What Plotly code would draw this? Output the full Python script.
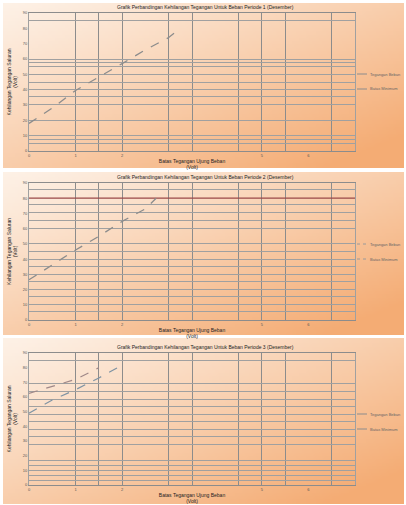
import base64, struct, zlib
import plotly.graph_objects as go

W, H = 406, 505

# ---------------- data ----------------
titles = [
    "Grafik Perbandingan Kehilangan Tegangan Untuk Beban Periode 1 (Desember)",
    "Grafik Perbandingan Kehilangan Tegangan Untuk Beban Periode 2 (Desember)",
    "Grafik Perbandingan Kehilangan Tegangan Untuk Beban Periode 3 (Desember)",
]
x_title = "Batas Tegangan Ujung Beban<br>(Volt)"
y_title = "Kehilangan Tegangan Saluran<br>(Volt)"

p1_x = [0, 0.5, 1, 1.5, 2, 2.5, 3, 3.23]
p1_y = [18, 28, 39.5, 48, 57, 66, 74, 79.5]

p2_x = [0, 0.5, 1, 1.5, 2, 2.5, 2.73]
p2_y = [26.4, 36, 46, 55, 64.8, 73, 80]
p2_limit_x = [0, 7]
p2_limit_y = [80, 80]

p3a_x = [0, 0.5, 1, 1.5]
p3a_y = [62.5, 67, 72, 80]
p3b_x = [0, 0.5, 1, 1.5, 1.9]
p3b_y = [49, 58, 65, 73, 80]

legend_names = [
    ["Tegangan Beban", "Batas Minimum"],
    ["Tegangan Beban", "Batas Minimum"],
    ["Tegangan Beban", "Batas Minimum"],
]

x_ticks = [0, 1, 2, 5, 6]
y_ticks = [0, 10, 20, 30, 40, 50, 60, 70, 80, 90]

x_grid = [0, 1, 1.5, 2, 3, 3.5, 4.5, 5, 5.5, 6.5, 7]
y_grid = [
    [0, 4.8, 7.4, 10.3, 20, 30.3, 35.4, 40.2, 44.5, 50.2, 55, 57.6, 59.8, 85.2, 90],
    [0, 5.5, 9.9, 15.4, 20.2, 25.3, 30.1, 35.2, 40, 45.1, 50.1, 60.4, 65.3, 70.3, 75.8, 85.7, 90],
    [0, 2.9, 6.8, 10.2, 13.6, 17, 27.7, 32.9, 37.9, 43.1, 48.1, 53.3, 58.5, 63.5, 69.2, 85, 90],
]

# ---------------- gradient background image ----------------
def gradient_png(w, h, c0, c1):
    rows = []
    for j in range(h):
        row = bytearray([0])
        v = j / (h - 1)
        for i in range(w):
            u = i / (w - 1)
            t = min(1.0, 0.55 * u + 0.55 * v)
            t = t ** 1.1
            for k in range(3):
                row.append(int(round(c0[k] + (c1[k] - c0[k]) * t)))
        rows.append(bytes(row))
    raw = b"".join(rows)

    def chunk(tag, data):
        c = struct.pack(">I", len(data)) + tag + data
        return c + struct.pack(">I", zlib.crc32(tag + data) & 0xFFFFFFFF)

    png = b"\x89PNG\r\n\x1a\n"
    png += chunk(b"IHDR", struct.pack(">IIBBBBB", w, h, 8, 2, 0, 0, 0))
    png += chunk(b"IDAT", zlib.compress(raw, 9))
    png += chunk(b"IEND", b"")
    return "data:image/png;base64," + base64.b64encode(png).decode()

grad = gradient_png(120, 50, (253, 241, 230), (244, 172, 116))

def px(x):
    return x / W

def py(y):
    return 1 - y / H

panels = [  # outer box top,bottom ; plot top,bottom ; legend rows
    dict(box=(3, 168), plot=(13, 151), leg=(74, 89)),
    dict(box=(172, 335), plot=(183, 320), leg=(244, 259)),
    dict(box=(338, 504), plot=(353, 485), leg=(414, 429)),
]
plot_x0, plot_x1 = 29, 355

series_styles = [
    [dict(color="#8c8c8c", width=1, dash="solid"), dict(color="#8c8c8c", width=1, dash="solid")],
    [dict(color="#9a9a9a", width=1, dash="dot"), dict(color="#9a9a9a", width=1, dash="dot")],
    [dict(color="#8c8c8c", width=1, dash="solid"), dict(color="#8c8c8c", width=1, dash="solid")],
]

fig = go.Figure()
layout = dict(
    width=W, height=H, margin=dict(l=0, r=0, t=0, b=0, autoexpand=False),
    paper_bgcolor="white", plot_bgcolor="white",
    font=dict(family="Liberation Sans, Arial", size=5, color="#333"),
    images=[], annotations=[], shapes=[], showlegend=False,
)

GRID_V = "#8c8c8c"
GRID_H = "#a0a0a0"
TICKF = dict(size=4, color="#555")

for i, p in enumerate(panels):
    n = i + 1
    sfx = "" if n == 1 else str(n)
    gx = str(n + 3)
    bt, bb = p["box"]
    pt, pb = p["plot"]
    layout["images"].append(dict(
        source=grad, xref="paper", yref="paper", x=px(3), y=py(bt),
        sizex=px(404) - px(3), sizey=py(bt) - py(bb), sizing="stretch",
        layer="below", xanchor="left", yanchor="top"))
    dom_y = [py(pb), py(pt)]
    dom_x = [px(plot_x0), px(plot_x1)]
    layout["xaxis" + sfx] = dict(
        domain=dom_x, anchor="y" + sfx, range=[0, 7], tickvals=x_ticks,
        showgrid=False, zeroline=False, showline=True, linecolor=GRID_V,
        linewidth=1, mirror=True, ticks="", tickfont=TICKF, ticklen=0,
        title=dict(text=x_title, font=dict(size=5, color="#222"), standoff=2),
    )
    layout["yaxis" + sfx] = dict(
        domain=dom_y, anchor="x" + sfx, range=[0, 90], tickvals=y_ticks,
        showgrid=False, zeroline=False, showline=True, linecolor=GRID_H,
        linewidth=1, mirror=True, ticks="", tickfont=TICKF,
        title=dict(text=y_title, font=dict(size=5, color="#222"), standoff=4),
    )
    layout["xaxis" + gx] = dict(
        domain=dom_x, anchor="y" + gx, overlaying="x" + sfx, range=[0, 7],
        tickmode="array", tickvals=x_grid, showticklabels=False,
        showgrid=True, gridcolor=GRID_V, gridwidth=1.3, zeroline=False,
    )
    layout["yaxis" + gx] = dict(
        domain=dom_y, anchor="x" + gx, overlaying="y" + sfx, range=[0, 90],
        tickmode="array", tickvals=y_grid[i], showticklabels=False,
        showgrid=True, gridcolor=GRID_H, gridwidth=1, zeroline=False,
    )
    layout["annotations"].append(dict(
        text=titles[i], xref="paper", yref="paper", x=px(205), y=py(pt - 1),
        xanchor="center", yanchor="bottom", showarrow=False,
        font=dict(size=5, color="#222")))
    # legend drawn as small line keys + text
    for k, ly in enumerate(p["leg"]):
        st = series_styles[i][k]
        layout["shapes"].append(dict(
            type="line", xref="paper", yref="paper",
            x0=px(357), x1=px(367), y0=py(ly), y1=py(ly),
            line=dict(color=st["color"], width=st["width"], dash=st["dash"])))
        layout["annotations"].append(dict(
            text=legend_names[i][k], xref="paper", yref="paper",
            x=px(367.5), y=py(ly), xanchor="left", yanchor="middle",
            showarrow=False, font=dict(size=4, color="#666")))

for n in range(1, 4):
    gx = str(n + 3)
    fig.add_trace(go.Scatter(x=[None], y=[None], xaxis="x" + gx, yaxis="y" + gx,
                             hoverinfo="skip"))

# panel 1
fig.add_trace(go.Scatter(x=p1_x, y=p1_y, mode="lines", name=legend_names[0][0],
                         line=dict(color="#8c8c8c", width=1.3, dash="dash"),
                         xaxis="x", yaxis="y"))
# panel 2
fig.add_trace(go.Scatter(x=p2_limit_x, y=p2_limit_y, mode="lines", name=legend_names[1][1],
                         line=dict(color="#9a4848", width=1.2),
                         xaxis="x2", yaxis="y2"))
fig.add_trace(go.Scatter(x=p2_x, y=p2_y, mode="lines", name=legend_names[1][0],
                         line=dict(color="#8c8c8c", width=1.3, dash="dash"),
                         xaxis="x2", yaxis="y2"))
# panel 3
fig.add_trace(go.Scatter(x=p3a_x, y=p3a_y, mode="lines", name=legend_names[2][0],
                         line=dict(color="#a08888", width=1.2, dash="dash"),
                         xaxis="x3", yaxis="y3"))
fig.add_trace(go.Scatter(x=p3b_x, y=p3b_y, mode="lines", name=legend_names[2][1],
                         line=dict(color="#7f93a3", width=1.2, dash="dash"),
                         xaxis="x3", yaxis="y3"))

fig.update_layout(**layout)
fig.write_html("out.html")
